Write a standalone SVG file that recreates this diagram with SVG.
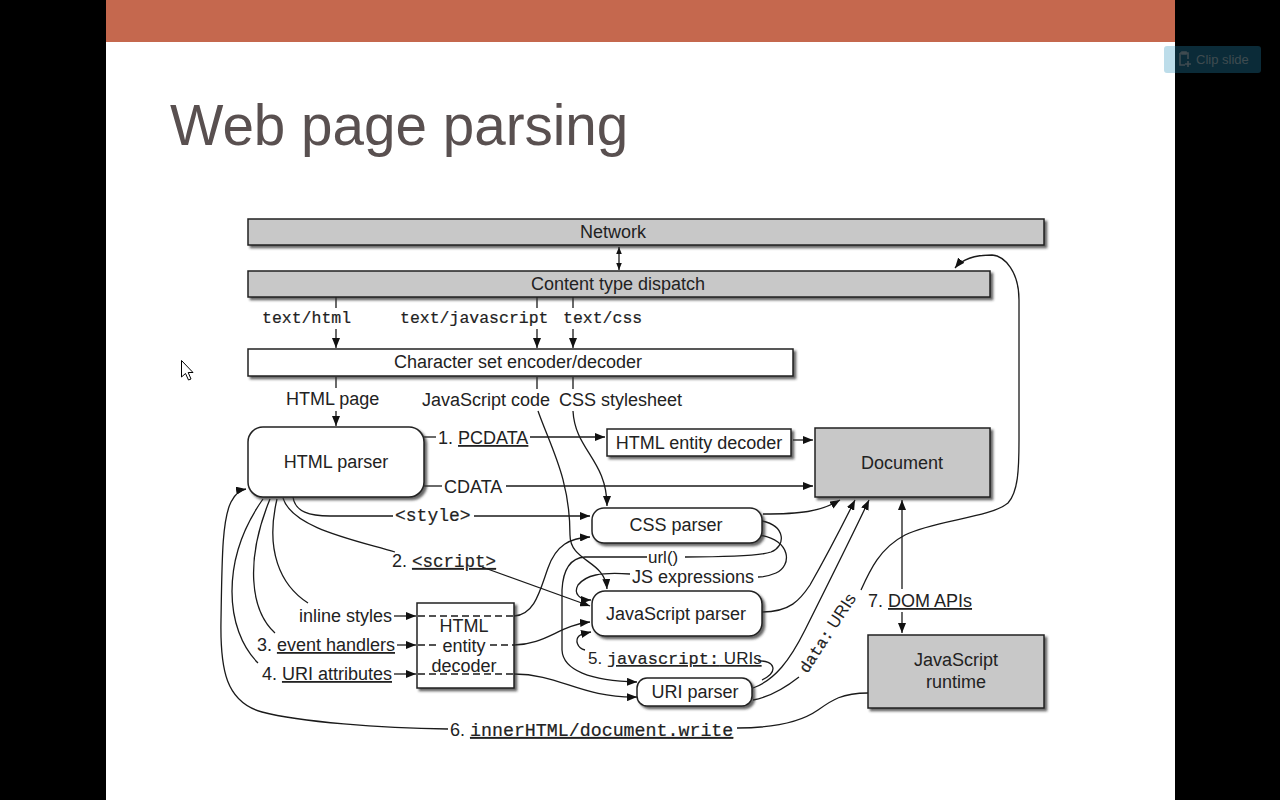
<svg xmlns="http://www.w3.org/2000/svg" width="1280" height="800" viewBox="0 0 1280 800">
<defs>
  <marker id="ah" viewBox="0 0 10 8" refX="10" refY="4" markerWidth="10" markerHeight="8" markerUnits="userSpaceOnUse" orient="auto-start-reverse">
    <path d="M0,0 L10,4 L0,8 z" fill="#111"/>
  </marker>
  <marker id="ahs" viewBox="0 0 10 8" refX="10" refY="4" markerWidth="7" markerHeight="6" markerUnits="userSpaceOnUse" orient="auto-start-reverse">
    <path d="M0,0 L10,4 L0,8 z" fill="#111"/>
  </marker>
  <filter id="sh" x="-10%" y="-20%" width="130%" height="150%">
    <feDropShadow dx="2.5" dy="2.5" stdDeviation="1" flood-color="#333" flood-opacity="0.75"/>
  </filter>
</defs>
<style>
  .box{stroke:#222;stroke-width:1.5}
  .gray{fill:#c8c8c8}
  .white{fill:#fff}
  .t{font-family:"Liberation Sans",Arial,sans-serif;font-size:18px;fill:#222}
  .m{font-family:"Liberation Mono","Courier New",monospace;font-weight:normal;stroke:#222;stroke-width:0.2}
  .c{text-anchor:middle}
  .e{text-anchor:end}
  .u{text-decoration:underline}
  .ln{fill:none;stroke:#1a1a1a;stroke-width:1.3}
  .arr{marker-end:url(#ah)}
  .dash{fill:none;stroke:#1a1a1a;stroke-width:1.3;stroke-dasharray:7 4}
</style>

<!-- page frame -->
<rect x="0" y="0" width="1280" height="800" fill="#000"/>
<rect x="106" y="0" width="1069" height="800" fill="#fff"/>
<rect x="106" y="0" width="1069" height="42" fill="#c5684e"/>

<!-- clip button -->
<g id="clip-button">
  <rect x="1164" y="46" width="97" height="27" rx="3" fill="rgb(37,143,187)" fill-opacity="0.3"/>
  <path d="M1180,53 h8 v6 M1180,53 v12 h5 M1182,52 h4 v2 h-4 z" fill="none" stroke="#3f4b50" stroke-width="1.6"/>
  <path d="M1188,61 v6 M1185,64 h6" stroke="#3f4b50" stroke-width="1.6"/>
  <text x="1196" y="64" font-family="'Liberation Sans',Arial,sans-serif" font-size="13" fill="#3f4b50">Clip slide</text>
</g>

<!-- title -->
<text x="170" y="145" font-family="'Liberation Sans',Arial,sans-serif" font-size="56.6" fill="#595050">Web page parsing</text>

<!-- pointer -->
<path d="M181.5,360.5 L181.5,377 L185.5,373.5 L188.5,380 L191,379 L188.2,372.5 L193,372.5 z" fill="#fff" stroke="#000" stroke-width="1"/>

<!-- connectors -->
<g id="connectors">
  <line class="ln" x1="619" y1="247" x2="619" y2="270" marker-start="url(#ahs)" marker-end="url(#ahs)"/>
  <line class="ln" x1="336" y1="297" x2="336" y2="308"/>
  <line class="ln arr" x1="336" y1="329" x2="336" y2="348"/>
  <line class="ln" x1="537" y1="297" x2="537" y2="308"/>
  <line class="ln arr" x1="537" y1="329" x2="537" y2="348"/>
  <line class="ln" x1="573" y1="297" x2="573" y2="308"/>
  <line class="ln arr" x1="573" y1="329" x2="573" y2="348"/>

  <line class="ln" x1="336" y1="377" x2="336" y2="388"/>
  <line class="ln arr" x1="336" y1="411" x2="336" y2="426"/>
  <line class="ln" x1="537" y1="377" x2="537" y2="389"/>
  <line class="ln" x1="573" y1="377" x2="573" y2="389"/>
  <path class="ln arr" d="M538,411 C552,450 570,480 570,535 C570,562 605,560 607,589"/>
  <path class="ln arr" d="M573,411 C575,450 607,460 607,506"/>

  <line class="ln" x1="424" y1="437" x2="436" y2="437"/>
  <line class="ln arr" x1="530" y1="437" x2="605" y2="437"/>
  <line class="ln" x1="424" y1="486" x2="442" y2="486"/>
  <line class="ln arr" x1="506" y1="486" x2="813" y2="486"/>
  <line class="ln arr" x1="793" y1="440" x2="813" y2="440"/>

  <path class="ln" d="M293,497 C295,512 310,516 330,516 L393,516"/>
  <path class="ln arr" d="M474,516 L590,516"/>
  <path class="ln" d="M283,498 C292,528 355,540 395,552"/>
  <path class="ln arr" d="M482,567 L590,606"/>

  <path class="ln" d="M277,499 C265,550 280,585 308,603"/>
  <path class="ln" d="M270,499 C245,560 250,610 275,633"/>
  <path class="ln" d="M263,499 C220,560 225,630 258,663"/>
  <path class="ln arr" d="M448,729 C380,728 300,722 262,712 C226,702 220,670 221,620 C222,560 222,520 231,502 C235,494 240,490 246,489"/>
  <path class="ln" d="M868,693 C842,693 832,700 818,710 C798,724 765,728 737,728"/>

  <line class="ln arr" x1="394" y1="616" x2="416" y2="616"/>
  <line class="ln arr" x1="397" y1="645" x2="416" y2="645"/>
  <line class="ln arr" x1="394" y1="674" x2="416" y2="674"/>
  <path class="ln arr" d="M514,616 C535,615 540,590 548,568 C556,545 570,538 590,537"/>
  <path class="ln arr" d="M514,645 C545,645 560,625 590,622"/>
  <path class="ln arr" d="M514,674 C560,674 580,698 637,697"/>

  <path class="ln" d="M762,521 C786,526 786,546 771,552 C760,556 720,557 685,557"/>
  <path class="ln arr" d="M647,557 L585,557 C570,558 563,570 562,590 L562,650 C563,670 590,681 637,682"/>
  <path class="ln" d="M759,535 C792,540 792,566 776,573 C769,576 764,577 758,577"/>
  <path class="ln arr" d="M630,574 C600,572 586,575 578,585 C573,594 580,600 591,600"/>

  <path class="ln arr" d="M763,514 C800,514 820,512 840,500"/>
  <path class="ln arr" d="M762,612 C790,612 800,600 810,585 C830,550 845,520 855,500"/>
  <path class="ln arr" d="M753,688 C775,680 790,660 805,630 C830,580 855,530 869,500"/>
  <path class="ln" d="M753,700 C770,697 785,688 799,677"/>
  <path class="ln arr" d="M861,590 C870,570 880,548 905,535 C935,520 990,518 1008,503 C1018,492 1019,470 1019,440 L1019,300 C1019,272 1005,256 992,255 C978,255 963,258 955,268"/>

  <line class="ln" x1="902" y1="589" x2="902" y2="500" marker-end="url(#ah)"/>
  <line class="ln arr" x1="902" y1="612" x2="902" y2="633"/>

  <path class="ln" d="M758,661 C775,660 779,672 762,680"/>
  <path class="ln arr" d="M585,650 C577,648 575,640 579,636 C582,633 586,633 591,632"/>
</g>

<!-- edge labels -->
<g id="labels" class="t">
  <text class="m" x="262" y="323" font-size="16.5">text/html</text>
  <text class="m" x="400" y="323" font-size="16.5">text/javascript</text>
  <text class="m" x="563" y="323" font-size="16.5">text/css</text>
  <text x="286" y="405">HTML page</text>
  <text x="422" y="406">JavaScript code</text>
  <text x="559" y="406">CSS stylesheet</text>
  <text x="438" y="444">1. <tspan class="u">PCDATA</tspan></text>
  <text x="444" y="493">CDATA</text>
  <text class="m" x="395" y="521" font-size="18">&lt;style&gt;</text>
  <text x="392" y="567">2. <tspan class="m u" font-size="17.5">&lt;script&gt;</tspan></text>
  <text x="648" y="563" font-size="17">url()</text>
  <text x="632" y="583">JS expressions</text>
  <text class="e" x="392" y="622">inline styles</text>
  <text class="e" x="395" y="651">3. <tspan class="u">event handlers</tspan></text>
  <text class="e" x="392" y="680">4. <tspan class="u">URI attributes</tspan></text>
  <text x="588" y="664" font-size="17">5. <tspan class="u"><tspan class="m" font-size="17">javascript:</tspan> URIs</tspan></text>
  <text x="450" y="736">6. <tspan class="m u" font-size="18.3">innerHTML/document.write</tspan></text>
  <text x="868" y="607">7. <tspan class="u">DOM APIs</tspan></text>
  <text transform="translate(832,636) rotate(-57)" class="c" font-size="17"><tspan class="m" font-size="16">data:</tspan> URIs</text>
</g>

<!-- nodes -->
<g id="network">
  <rect class="box gray" x="248" y="219" width="796" height="26" filter="url(#sh)"/>
  <text class="t c" x="613" y="238">Network</text>
</g>
<g id="content-type-dispatch">
  <rect class="box gray" x="248" y="271" width="742" height="26" filter="url(#sh)"/>
  <text class="t c" x="618" y="290">Content type dispatch</text>
</g>
<g id="charset-codec">
  <rect class="box white" x="248" y="349" width="545" height="27" filter="url(#sh)"/>
  <text class="t c" x="518" y="368">Character set encoder/decoder</text>
</g>
<g id="html-parser">
  <rect class="box white" x="248" y="427" width="176" height="70" rx="15" filter="url(#sh)"/>
  <text class="t c" x="336" y="468">HTML parser</text>
</g>
<g id="html-entity-decoder-top">
  <rect class="box white" x="607" y="429" width="184" height="27" filter="url(#sh)"/>
  <text class="t c" x="699" y="449">HTML entity decoder</text>
</g>
<g id="document">
  <rect class="box gray" x="815" y="428" width="175" height="69" filter="url(#sh)"/>
  <text class="t c" x="902" y="469">Document</text>
</g>
<g id="css-parser">
  <rect class="box white" x="592" y="508" width="170" height="35" rx="12" filter="url(#sh)"/>
  <text class="t c" x="676" y="531">CSS parser</text>
</g>
<g id="js-parser">
  <rect class="box white" x="592" y="591" width="170" height="45" rx="13" filter="url(#sh)"/>
  <text class="t c" x="676" y="620">JavaScript parser</text>
</g>
<g id="html-entity-decoder-attr">
  <rect class="box white" x="417" y="603" width="97" height="85" filter="url(#sh)"/>
  <line class="dash" x1="418" y1="616" x2="514" y2="616"/>
  <line class="dash" x1="418" y1="645" x2="438" y2="645"/>
  <line class="dash" x1="490" y1="645" x2="514" y2="645"/>
  <line class="dash" x1="418" y1="674" x2="514" y2="674"/>
  <text class="t c" x="464" y="632" font-size="17">HTML</text>
  <text class="t c" x="464" y="652" font-size="17">entity</text>
  <text class="t c" x="464" y="672" font-size="17">decoder</text>
</g>
<g id="uri-parser">
  <rect class="box white" x="637" y="678" width="115" height="28" rx="10" filter="url(#sh)"/>
  <text class="t c" x="695" y="698">URI parser</text>
</g>
<g id="js-runtime">
  <rect class="box gray" x="868" y="635" width="176" height="73" filter="url(#sh)"/>
  <text class="t c" x="956" y="666">JavaScript</text>
  <text class="t c" x="956" y="688">runtime</text>
</g>
</svg>
